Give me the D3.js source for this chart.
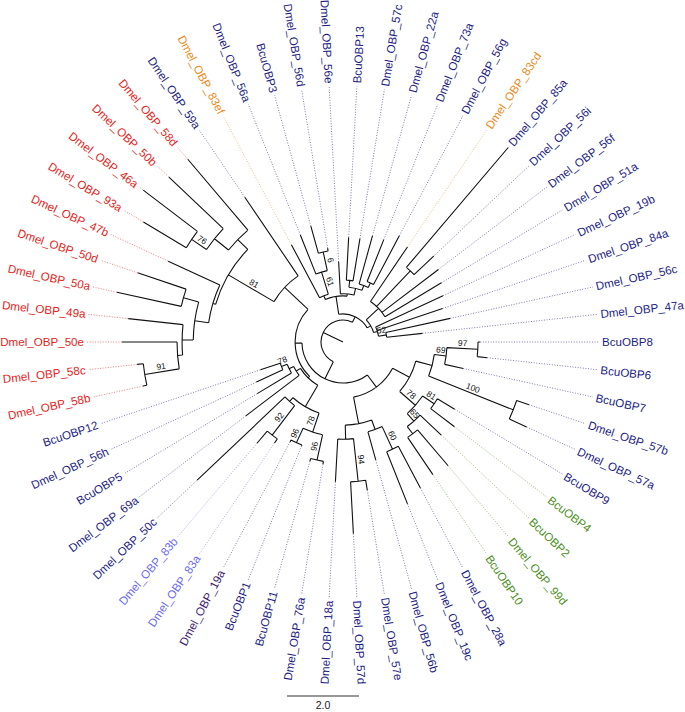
<!DOCTYPE html>
<html><head><meta charset="utf-8">
<script src="https://cdn.jsdelivr.net/npm/d3@7"></script>
<style>body{margin:0;background:#fff}text{font-family:"Liberation Sans",Arial,Helvetica,sans-serif}</style>
</head><body><svg id="c" width="685" height="712"></svg>
<script>
// ---- data: tree topology (Newick pieces, branch lengths in substitutions/site) ----
const cladeP1 = "(((BcuOBP8:0.06,BcuOBP6:0.28)97:0.86,BcuOBP7:0.53)69:0.33,(Dmel_OBP_57b:0.36,Dmel_OBP_57a:0.53)100:2.53):0.47";
const cladeG78 = "((BcuOBP9:0.56,BcuOBP4:0.83)81:0.39,(BcuOBP2:0.81,(Dmel_OBP_99d:1.31,BcuOBP10:1.25):0.25)65:0.28)78:0.58";
const cladeS = "(((Dmel_OBP_28a:1.31,Dmel_OBP_19c:1.56)60:0.69,Dmel_OBP_56b:0.81):0.28,((Dmel_OBP_57e:0.28,Dmel_OBP_57d:1.44)94:1.19,Dmel_OBP_18a:1.19):0.39):0.75";
const cladeLBB = "(((Dmel_OBP_76a:0.08,BcuOBP11:0.08)96:0.72,(BcuOBP1:0.03,Dmel_OBP_19a:0.06)96:0.44)78:0.56,((Dmel_OBP_83a:0.14,Dmel_OBP_83b:0.44)92:1.03,Dmel_OBP_50c:3.36):0.14):0.69";
const cladeLBW = "(Dmel_OBP_69a:1.86,(BcuOBP5:1.11,(Dmel_OBP_56h:0.81,BcuOBP12:0.58)78:0.17):0.14):0.14";
const cladeRed = "((((((Dmel_OBP_58b:0.11,Dmel_OBP_58c:0.17)91:0.97,Dmel_OBP_50e:1.53):0.14,Dmel_OBP_49a:1.53):0.31,(Dmel_OBP_50a:1.83,Dmel_OBP_50d:1.42):0.44):0.39,Dmel_OBP_47b:1.58):0.08,(((Dmel_OBP_93a:1.39,Dmel_OBP_46a:1.89)76:0.5,Dmel_OBP_50b:2.08):0.5,Dmel_OBP_58d:2.58):0.39)81:1.47";
const cladeTop = "((Dmel_OBP_83ef:1.67,(Dmel_OBP_56a:1.17,(BcuOBP3:0.78,Dmel_OBP_56d:0.08)6:0.53)61:0.64):0.11,(Dmel_OBP_56e:0.89,((BcuOBP13:1.19,Dmel_OBP_57c:1.19):0.19,(Dmel_OBP_22a:1.39,(Dmel_OBP_73a:1.25,Dmel_OBP_56g:1.53):0.14):0.14):0.19):0.06):0.5";
const cladeRight = "((Dmel_OBP_83cd:1.83,(Dmel_OBP_85a:4.36,Dmel_OBP_56i:0.75):1.36,Dmel_OBP_56f:1.97,Dmel_OBP_51a:1.83):0.47,(Dmel_OBP_19b:2.06,Dmel_OBP_84a:1.92,(Dmel_OBP_56c:1.83,Dmel_OBP_47a:1.0)52:0.22):0.11):0.11";

const newick =
  "(((" + "(" + cladeP1 + "," + cladeG78 + "):0.53," + cladeS + "):0.42," +
  "((" + cladeLBB + "," + cladeLBW + "):0.06,(" + cladeRed + ",Dmel_OBP_59a:2.64):0.89):0.19):0.53," +
  "(" + cladeTop + "," + cladeRight + "):0.17):0.61;";

const redLeaves = ["Dmel_OBP_58d","Dmel_OBP_50b","Dmel_OBP_46a","Dmel_OBP_93a","Dmel_OBP_47b","Dmel_OBP_50d","Dmel_OBP_50a","Dmel_OBP_49a","Dmel_OBP_50e","Dmel_OBP_58c","Dmel_OBP_58b"];
const orangeLeaves = ["Dmel_OBP_83ef","Dmel_OBP_83cd"];
const greenLeaves = ["BcuOBP4","BcuOBP2","Dmel_OBP_99d","BcuOBP10"];
const lightBlueLeaves = ["Dmel_OBP_83a","Dmel_OBP_83b"];
const purpleLeaves = ["Dmel_OBP_19a"];
const firstLeafAngle = 90;   // degrees, clockwise from north, of first leaf in tree order
const scaleBarValue = 2.0;

// ---- parse ----
function parseNewick(s){
  let i=0;
  function node(){
    const n={children:[]};
    if(s[i]==='('){ i++; n.children.push(node()); while(s[i]===','){ i++; n.children.push(node()); } i++; }
    let name=''; while(i<s.length && !':,);'.includes(s[i])) name+=s[i++];
    n.name=name.trim();
    if(s[i]===':'){ i++; let num=''; while(i<s.length && !',);'.includes(s[i])) num+=s[i++]; n.length=+num; } else n.length=0;
    return n;
  }
  return node();
}
const root = d3.hierarchy(parseNewick(newick), d => d.children.length ? d.children : null);
root.each(d => { d.r = (d.parent ? d.parent.r : 0) + d.data.length; });
const leaves = root.leaves();
const angleScale = d3.scaleLinear().domain([0, leaves.length]).range([firstLeafAngle, firstLeafAngle + 360]);
leaves.forEach((d,i) => d.a = angleScale(i));
root.eachAfter(d => { if(d.children){ d.a = (d.children[0].a + d.children[d.children.length-1].a)/2; } });

const cx = 343, cy = 342;
const rScale = d3.scaleLinear().domain([0, scaleBarValue]).range([0, 72]);
const labelR = 259, dotEnd = 256;
const rad = a => a*Math.PI/180;
const px = (r,a) => cx + rScale(r)*Math.sin(rad(a));
const py = (r,a) => cy - rScale(r)*Math.cos(rad(a));

function colorOf(n){
  if(redLeaves.includes(n)) return "#e3241b";
  if(orangeLeaves.includes(n)) return "#ec8b22";
  if(greenLeaves.includes(n)) return "#4c8f1e";
  if(lightBlueLeaves.includes(n)) return "#6d6cf0";
  if(purpleLeaves.includes(n)) return "#3d1b74";
  return "#1d1d86";
}

const svg = d3.select("#c");
const g = svg.append("g");

// branches
const path = d3.path();
root.descendants().forEach(d => {
  const r0 = d.parent ? d.parent.r : 0;
  path.moveTo(px(r0,d.a), py(r0,d.a));
  path.lineTo(px(d.r,d.a), py(d.r,d.a));
  if(d.children){
    const a0 = d.children[0].a, a1 = d.children[d.children.length-1].a;
    path.moveTo(px(d.r,a0), py(d.r,a0));
    path.arc(cx, cy, rScale(d.r), rad(a0-90), rad(a1-90), false);
  }
});
g.append("path").attr("d", path.toString()).attr("fill","none").attr("stroke","#111").attr("stroke-width",1.1);

// dotted extensions
g.selectAll("line.dot").data(leaves.filter(d => rScale(d.r) < dotEnd)).join("line")
  .attr("x1", d => px(d.r,d.a)).attr("y1", d => py(d.r,d.a))
  .attr("x2", d => cx + dotEnd*Math.sin(rad(d.a))).attr("y2", d => cy - dotEnd*Math.cos(rad(d.a)))
  .attr("stroke", d => colorOf(d.data.name)).attr("stroke-opacity",0.65)
  .attr("stroke-width",0.9).attr("stroke-dasharray","1,1.6");

// leaf labels
g.selectAll("text.leaf").data(leaves).join("text")
  .attr("transform", d => {
    const flip = d.a % 360 > 180;
    return `rotate(${d.a-90},${cx},${cy}) translate(${cx+labelR},${cy})` + (flip ? " rotate(180)" : "");
  })
  .attr("text-anchor", d => d.a % 360 > 180 ? "end" : "start")
  .attr("dy","0.35em").attr("font-size",11.6)
  .attr("fill", d => colorOf(d.data.name))
  .text(d => d.data.name);

// bootstrap labels
g.selectAll("text.bs").data(root.descendants().filter(d => d.children && d.data.name)).join("text")
  .attr("transform", d => {
    const rm = (rScale(d.parent.r) + rScale(d.r))/2;
    const flip = d.a % 360 > 180;
    return `rotate(${d.a-90},${cx},${cy}) translate(${cx+rm},${cy})` + (flip ? " rotate(180)" : "");
  })
  .attr("text-anchor","middle").attr("y",-2.5).attr("font-size",8.5).attr("fill","#111")
  .text(d => d.data.name);

// scale bar
const sbx = 287, sby = 696;
svg.append("line").attr("x1",sbx).attr("x2",sbx+rScale(scaleBarValue)).attr("y1",sby).attr("y2",sby)
  .attr("stroke","#333").attr("stroke-width",1.2);
svg.append("text").attr("x",sbx+rScale(scaleBarValue)/2).attr("y",sby+13).attr("text-anchor","middle")
  .attr("font-size",10.5).attr("fill","#222").text(scaleBarValue.toFixed(1));
</script></body></html>
